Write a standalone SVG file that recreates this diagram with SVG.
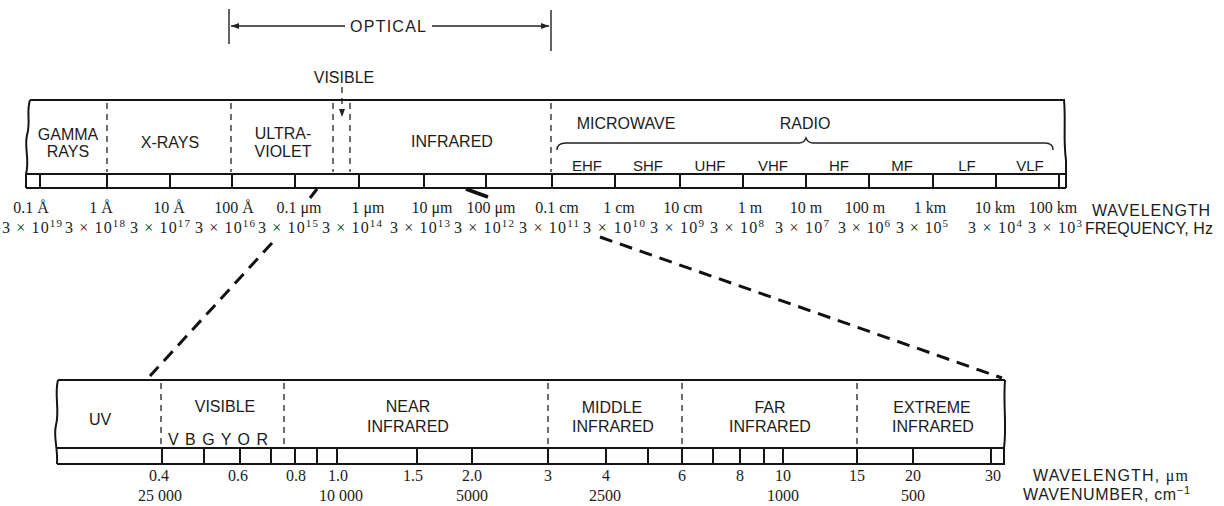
<svg xmlns="http://www.w3.org/2000/svg" width="1224" height="506" viewBox="0 0 1224 506">
<style>
.bg{fill:#ffffff}
.ln{fill:none;stroke:#151515;stroke-width:2}
.tk{fill:none;stroke:#151515;stroke-width:2}
.ds{fill:none;stroke:#222;stroke-width:1.3;stroke-dasharray:6 5}
.ex{fill:none;stroke:#111;stroke-width:3;stroke-dasharray:13 8}
.thin{fill:none;stroke:#222;stroke-width:1.4}
.sans{font-family:"Liberation Sans",Arial,sans-serif;font-size:16px;fill:#1c1c1c;text-anchor:middle}
.sm{font-size:15px}
.ser{font-family:"Liberation Serif","Times New Roman",serif;font-size:16px;fill:#1c1c1c;text-anchor:middle}
.sup{font-size:11px}
.lft{text-anchor:start}
</style>
<defs>
<marker id="arr" viewBox="0 0 8 6" refX="8" refY="3" markerWidth="8" markerHeight="6" markerUnits="userSpaceOnUse" orient="auto-start-reverse">
<path d="M0,0 L8,3 L0,6 z" fill="#222"/>
</marker>
</defs>
<rect class="bg" x="0" y="0" width="1224" height="506"/>

<g id="optical">
<path class="thin" d="M229,9 L229,44 M551,10 L551,51"/>
<text class="sans lft" x="350" y="32" textLength="76" lengthAdjust="spacing">OPTICAL</text>
</g>

<g id="top-band">
<path class="ln" d="M30,100 L1065,100"/>
<path class="ln" d="M30,100 C26,112 31,122 27,135 C24,148 30,160 26,174 L26,188"/>
<path class="ln" d="M1064,100 C1066,120 1063,140 1066,160 L1066,188"/>
<path class="ln" d="M26,174 L1066,174 M26,188 L1066,188"/>
<path class="tk" d="M40,174V188 M107,174V188 M170,174V188 M232,174V188 M295,174V188 M359,174V188 M424,174V188 M486,174V188 M552,174V188 M615,174V188 M680,174V188 M743,174V188 M806,174V188 M869,174V188 M933,174V188 M996,174V188 M1059,174V188"/>
<path class="ds" d="M107,103V172 M231,103V172 M333,103V172 M350,103V172 M551,103V172"/>
</g>

<g id="gamma-rays"><text class="sans" x="68" y="140">GAMMA</text><text class="sans" x="68" y="157">RAYS</text></g>
<g id="x-rays"><text class="sans" x="170" y="148">X-RAYS</text></g>
<g id="ultraviolet"><text class="sans" x="283" y="139">ULTRA-</text><text class="sans" x="283" y="157">VIOLET</text></g>
<g id="visible-top"><text class="sans" x="344" y="83">VISIBLE</text></g>
<g id="infrared"><text class="sans" x="452" y="147">INFRARED</text></g>
<g id="microwave"><text class="sans" x="626" y="129">MICROWAVE</text></g>
<g id="radio">
<text class="sans" x="805" y="129">RADIO</text>
<path class="thin" d="M557,150 Q557,143 566,143 L799,143 Q804,143 806,138 Q808,143 813,143 L1045,143 Q1053,143 1053,150" stroke-width="2"/>
</g>
<g id="bands">
<text class="sans sm" x="587" y="171">EHF</text>
<text class="sans sm" x="648" y="171">SHF</text>
<text class="sans sm" x="710" y="171">UHF</text>
<text class="sans sm" x="773" y="171">VHF</text>
<text class="sans sm" x="839" y="171">HF</text>
<text class="sans sm" x="902" y="171">MF</text>
<text class="sans sm" x="967" y="171">LF</text>
<text class="sans sm" x="1030" y="171">VLF</text>
</g>

<g id="top-wavelengths">
<text class="ser" x="31" y="213">0.1 Å</text>
<text class="ser" x="101" y="213">1 Å</text>
<text class="ser" x="169" y="213">10 Å</text>
<text class="ser" x="234" y="213">100 Å</text>
<text class="ser" x="299" y="213">0.1 μm</text>
<text class="ser" x="368" y="213">1 μm</text>
<text class="ser" x="432" y="213">10 μm</text>
<text class="ser" x="491" y="213">100 μm</text>
<text class="ser" x="557" y="213">0.1 cm</text>
<text class="ser" x="619" y="213">1 cm</text>
<text class="ser" x="683" y="213">10 cm</text>
<text class="ser" x="750" y="213">1 m</text>
<text class="ser" x="806" y="213">10 m</text>
<text class="ser" x="865" y="213">100 m</text>
<text class="ser" x="930" y="213">1 km</text>
<text class="ser" x="995" y="213">10 km</text>
<text class="ser" x="1053" y="213">100 km</text>
<text class="sans lft" x="1092" y="216" textLength="118" lengthAdjust="spacing">WAVELENGTH</text>
</g>

<g id="top-frequencies">
<text class="ser" x="32" y="233" textLength="60" lengthAdjust="spacing">3 × 10<tspan class="sup" dy="-6">19</tspan></text>
<text class="ser" x="95" y="233" textLength="60" lengthAdjust="spacing">3 × 10<tspan class="sup" dy="-6">18</tspan></text>
<text class="ser" x="160" y="233" textLength="60" lengthAdjust="spacing">3 × 10<tspan class="sup" dy="-6">17</tspan></text>
<text class="ser" x="225" y="233" textLength="60" lengthAdjust="spacing">3 × 10<tspan class="sup" dy="-6">16</tspan></text>
<text class="ser" x="288" y="233" textLength="60" lengthAdjust="spacing">3 × 10<tspan class="sup" dy="-6">15</tspan></text>
<text class="ser" x="352" y="233" textLength="60" lengthAdjust="spacing">3 × 10<tspan class="sup" dy="-6">14</tspan></text>
<text class="ser" x="420" y="233" textLength="60" lengthAdjust="spacing">3 × 10<tspan class="sup" dy="-6">13</tspan></text>
<text class="ser" x="484" y="233" textLength="60" lengthAdjust="spacing">3 × 10<tspan class="sup" dy="-6">12</tspan></text>
<text class="ser" x="549" y="233" textLength="60" lengthAdjust="spacing">3 × 10<tspan class="sup" dy="-6">11</tspan></text>
<text class="ser" x="614" y="233" textLength="62" lengthAdjust="spacing">3 × 10<tspan class="sup" dy="-6">10</tspan></text>
<text class="ser" x="677" y="233" textLength="54" lengthAdjust="spacing">3 × 10<tspan class="sup" dy="-6">9</tspan></text>
<text class="ser" x="737" y="233" textLength="54" lengthAdjust="spacing">3 × 10<tspan class="sup" dy="-6">8</tspan></text>
<text class="ser" x="802" y="233" textLength="54" lengthAdjust="spacing">3 × 10<tspan class="sup" dy="-6">7</tspan></text>
<text class="ser" x="864" y="233" textLength="52" lengthAdjust="spacing">3 × 10<tspan class="sup" dy="-6">6</tspan></text>
<text class="ser" x="922" y="233" textLength="52" lengthAdjust="spacing">3 × 10<tspan class="sup" dy="-6">5</tspan></text>
<text class="ser" x="995" y="233" textLength="54" lengthAdjust="spacing">3 × 10<tspan class="sup" dy="-6">4</tspan></text>
<text class="ser" x="1055" y="233" textLength="54" lengthAdjust="spacing">3 × 10<tspan class="sup" dy="-6">3</tspan></text>
<text class="sans lft" x="1085" y="234" textLength="128" lengthAdjust="spacing">FREQUENCY, Hz</text>
</g>

<g id="bottom-band">
<path class="ln" d="M58,380 L1005,380"/>
<path class="ln" d="M58,380 C54,395 60,410 56,425 C53,438 58,445 57,464"/>
<path class="ln" d="M1005,380 C1003,405 1007,425 1004,448 L1004,464"/>
<path class="ln" d="M57,448 L1005,448 M57,464 L1005,464"/>
<path class="tk" d="M162,448V464 M204,448V464 M240,448V464 M271,448V464 M295,448V464 M317,448V464 M337,448V464 M417,448V464 M472,448V464 M548,448V464 M606,448V464 M648,448V464 M682,448V464 M713,448V464 M740,448V464 M764,448V464 M783,448V464 M857,448V464 M913,448V464 M991,448V464"/>
<path class="ds" d="M161,383V447 M284,383V447 M548,383V447 M682,383V447 M857,383V447"/>
</g>

<g id="uv"><text class="sans" x="100" y="425">UV</text></g>
<g id="visible">
<text class="sans" x="225" y="412">VISIBLE</text>
<text class="sans lft" x="168" y="445" textLength="100" lengthAdjust="spacing">V B G Y O R</text>
</g>
<g id="near-infrared"><text class="sans" x="408" y="412">NEAR</text><text class="sans" x="408" y="432">INFRARED</text></g>
<g id="middle-infrared"><text class="sans" x="612" y="413">MIDDLE</text><text class="sans" x="613" y="432">INFRARED</text></g>
<g id="far-infrared"><text class="sans" x="770" y="413">FAR</text><text class="sans" x="770" y="432">INFRARED</text></g>
<g id="extreme-infrared"><text class="sans" x="932" y="413">EXTREME</text><text class="sans" x="933" y="432">INFRARED</text></g>

<g id="bottom-wavelengths">
<text class="ser" x="159" y="481">0.4</text>
<text class="ser" x="238" y="481">0.6</text>
<text class="ser" x="296" y="481">0.8</text>
<text class="ser" x="338" y="481">1.0</text>
<text class="ser" x="413" y="481">1.5</text>
<text class="ser" x="472" y="481">2.0</text>
<text class="ser" x="548" y="481">3</text>
<text class="ser" x="606" y="481">4</text>
<text class="ser" x="682" y="481">6</text>
<text class="ser" x="740" y="481">8</text>
<text class="ser" x="783" y="481">10</text>
<text class="ser" x="857" y="481">15</text>
<text class="ser" x="913" y="481">20</text>
<text class="ser" x="993" y="481">30</text>
<text class="sans lft" x="1033" y="481" textLength="155" lengthAdjust="spacing">WAVELENGTH, <tspan font-family="Liberation Serif, serif">μm</tspan></text>
</g>
<g id="bottom-wavenumbers">
<text class="ser" x="160" y="501">25 000</text>
<text class="ser" x="341" y="501">10 000</text>
<text class="ser" x="472" y="501">5000</text>
<text class="ser" x="605" y="501">2500</text>
<text class="ser" x="783" y="501">1000</text>
<text class="ser" x="913" y="501">500</text>
<text class="sans lft" x="1023" y="500" textLength="167" lengthAdjust="spacing">WAVENUMBER, cm<tspan class="sup" dy="-6">−1</tspan></text>
</g>

<g id="connectors">
<path class="thin" d="M345,26 L231,26" marker-end="url(#arr)"/>
<path class="thin" d="M432,26 L549,26" marker-end="url(#arr)"/>
<path class="ds" d="M342,87 L342,117" marker-end="url(#arr)"/>
<path d="M317,189 L310,198" stroke="#111" stroke-width="3" fill="none"/>
<path class="ex" d="M272,243 L150,376"/>
<path d="M466,189 L488,197" stroke="#111" stroke-width="3.5" fill="none"/>
<path class="ex" d="M600,237 L1002,378"/>
</g>
</svg>
